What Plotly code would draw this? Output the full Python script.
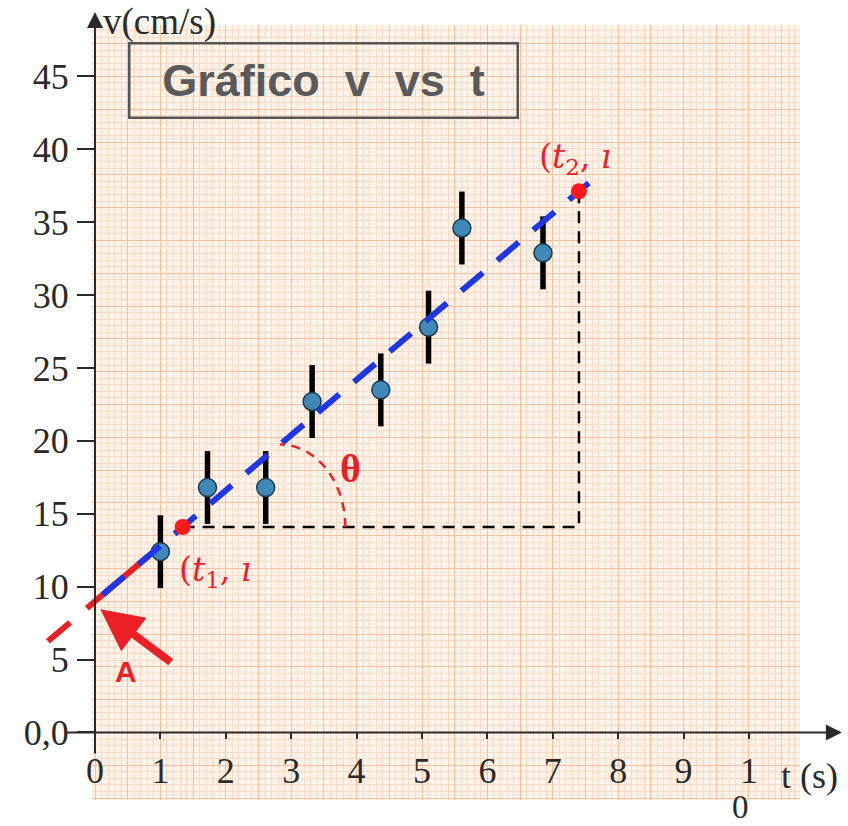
import numpy as np
import plotly.graph_objects as go

# ---- measured data -------------------------------------------------------
t_s = [1.00, 1.72, 2.61, 3.32, 4.37, 5.10, 5.61, 6.85]
v_cms = [12.4, 16.8, 16.8, 22.7, 23.5, 27.8, 34.6, 32.9]
v_err = [2.5, 2.5, 2.5, 2.5, 2.5, 2.5, 2.5, 2.5]

# best straight line  v = fit_a + fit_b * t
fit_a = 9.0
fit_b = 3.8
# two points read on the line to get the slope
t_sel = [1.34, 7.40]
# extent of the drawn fit line
t_fit = [0.12, 7.55]
# extrapolation back to the v axis
t_extra = [-0.72, 0.0, 0.82]

x_tick_vals = [0, 1, 2, 3, 4, 5, 6, 7, 8, 9, 10]
x_tick_text = ["0", "1", "2", "3", "4", "5", "6", "7", "8", "9", "1"]
x_tick_wrap = "0"          # second line of the "10" label
y_tick_vals = [0, 5, 10, 15, 20, 25, 30, 35, 40, 45]
y_tick_text = ["0,0", "5", "10", "15", "20", "25", "30", "35", "40", "45"]

# ---- figure geometry -----------------------------------------------------
W, H = 848, 826
M_L, M_R, M_T, M_B = 92, 48, 25, 26
X0, X1 = -0.046, 10.78
Y0, Y1 = -4.63, 48.525


def line_v(t):
    return fit_a + fit_b * np.asarray(t, dtype=float)


def xp(t):
    return (t - X0) / (X1 - X0)


def yp(v):
    return (v - Y0) / (Y1 - Y0)


def yp_pix(py):
    # paper fraction for a pixel row measured from the top of the figure
    return (H - M_B - py) / (H - M_T - M_B)


v_sel = line_v(t_sel)
t1, t2 = t_sel
v1, v2 = float(v_sel[0]), float(v_sel[1])

SERIF = "Liberation Serif"
MATH = "DejaVu Serif"
SANS = "Liberation Sans"
RED = "#ec1f26"
BLUE = "#1f36e6"
INK = "#2a2a2a"

fig = go.Figure()

# construction lines for the slope triangle
fig.add_trace(go.Scatter(
    x=[t1, t2, t2], y=[v1, v1, v2], mode="lines",
    line=dict(color="black", width=2.5, dash="12px,8px"),
    hoverinfo="skip", showlegend=False))

# red extrapolation (inside the grid)
fig.add_trace(go.Scatter(
    x=t_extra[1:], y=line_v(t_extra[1:]), mode="lines",
    line=dict(color=RED, width=6),
    hoverinfo="skip", showlegend=False))

# measured points with uncertainty bars
fig.add_trace(go.Scatter(
    x=t_s, y=v_cms, mode="markers",
    marker=dict(size=18, color="#4088b6",
                line=dict(color="#1b3a4f", width=1.5)),
    error_y=dict(type="data", array=v_err, color="black",
                 thickness=5.5, width=0),
    hoverinfo="x+y", showlegend=False))

# fitted line
fig.add_trace(go.Scatter(
    x=t_fit, y=line_v(t_fit), mode="lines",
    line=dict(color=BLUE, width=6, dash="28px,19px"),
    hoverinfo="skip", showlegend=False))

# selected points
fig.add_trace(go.Scatter(
    x=t_sel, y=v_sel, mode="markers",
    marker=dict(size=16, color="#ff1a1a"),
    hoverinfo="x+y", showlegend=False))

# angle arc between the horizontal and the fit line
tc = 2.83
rx = 1.0
ry = float(line_v(tc)) - v1
th = np.linspace(0, np.pi / 2, 40)
fig.add_trace(go.Scatter(
    x=tc + rx * np.cos(th), y=v1 + ry * np.sin(th), mode="lines",
    line=dict(color=RED, width=2.5, dash="9px,7px"),
    hoverinfo="skip", showlegend=False))

# carrier trace for the tick axes
fig.add_trace(go.Scatter(x=[None], y=[None], xaxis="x2", yaxis="y2",
                         showlegend=False, hoverinfo="skip"))

# red dashed extrapolation beyond the v axis
fig.add_shape(type="line", xref="paper", yref="paper",
              x0=xp(t_extra[0]), y0=yp(float(line_v(t_extra[0]))),
              x1=xp(t_extra[1]), y1=yp(float(line_v(t_extra[1]))),
              line=dict(color=RED, width=6, dash="29px,22px,200px"),
              layer="above")

ann = []
# axes with arrows
ann.append(dict(x=xp(11.42), y=yp(0), xref="paper", yref="paper",
                text="", showarrow=True, ax=-777, ay=0,
                arrowhead=2, arrowsize=1.6, arrowwidth=2, arrowcolor=INK))
ann.append(dict(x=xp(0), y=yp(49.42), xref="paper", yref="paper",
                text="", showarrow=True, ax=0, ay=743,
                arrowhead=2, arrowsize=1.6, arrowwidth=2, arrowcolor=INK))
ann.append(dict(x=xp(0.1), y=yp_pix(0), xref="paper", yref="paper",
                text="v(cm/s)", showarrow=False, xanchor="left",
                yanchor="top", borderpad=0,
                font=dict(family=SERIF, size=37, color=INK)))
ann.append(dict(x=xp(10.93), y=yp(-3.0), xref="paper", yref="paper",
                text="t\u00a0(s)", showarrow=False, xanchor="center",
                yanchor="middle", font=dict(family=SERIF, size=36, color=INK)))
# wrapped second line of the "10" tick label
ann.append(dict(x=xp(10) - 0.012, y=yp_pix(H), xref="paper", yref="paper",
                text=x_tick_wrap, showarrow=False, xanchor="center",
                yanchor="bottom", borderpad=0,
                font=dict(family=SERIF, size=33, color=INK)))
# title box
ann.append(dict(x=xp(3.5), y=yp(44.75), xref="paper", yref="paper",
                text="<b>Gráfico\u00a0\u00a0v\u00a0\u00a0vs\u00a0\u00a0t</b>",
                showarrow=False, xanchor="center", yanchor="middle",
                width=386, height=72, borderpad=0,
                bordercolor="#555555", borderwidth=2.5,
                font=dict(family=SANS, size=45, color="#5a5a5a")))
# point labels
ann.append(dict(x=t1, y=v1, xref="x", yref="y",
                text="(<i>t</i><sub>1</sub>, <i>ı</i>", showarrow=False,
                xanchor="left", yanchor="middle", xshift=-6, yshift=-44,
                font=dict(family=MATH, size=33, color=RED)))
ann.append(dict(x=t2, y=v2, xref="x", yref="y",
                text="(<i>t</i><sub>2</sub>, <i>ı</i>", showarrow=False,
                xanchor="center", yanchor="middle", xshift=-4, yshift=33,
                font=dict(family=MATH, size=33, color=RED)))
ann.append(dict(x=3.91, y=18.1, xref="x", yref="y", text="<b>θ</b>",
                showarrow=False, font=dict(family=SERIF, size=40, color=RED)))
# intercept marker
ann.append(dict(x=0.08, y=fit_a - 0.55, xref="x", yref="y", text="",
                showarrow=True, ax=72, ay=54, arrowhead=2, arrowsize=1.05,
                arrowwidth=8, arrowcolor=RED))
ann.append(dict(x=0.47, y=4.15, xref="x", yref="y", text="<b>A</b>",
                showarrow=False, font=dict(family=SANS, size=30, color=RED)))

fig.update_layout(
    template="none",
    width=W, height=H,
    margin=dict(l=M_L, r=M_R, t=M_T, b=M_B),
    paper_bgcolor="white",
    plot_bgcolor="#fef2e9",
    showlegend=False,
    annotations=ann,
    xaxis=dict(range=[X0, X1], showgrid=True, gridcolor="#f5c2a1",
               gridwidth=1, tick0=0, dtick=0.5, showticklabels=False,
               ticks="", zeroline=False, showline=False, automargin=False,
               minor=dict(dtick=0.1, showgrid=True, gridcolor="#fadcc9",
                          gridwidth=1, ticks="")),
    yaxis=dict(range=[Y0, Y1], showgrid=True, gridcolor="#f5c2a1",
               gridwidth=1, tick0=0, dtick=2.25, showticklabels=False,
               ticks="", zeroline=False, showline=False, automargin=False,
               minor=dict(dtick=0.45, showgrid=True, gridcolor="#fadcc9",
                          gridwidth=1, ticks="")),
    xaxis2=dict(overlaying="x", range=[X0, X1], anchor="free",
                position=yp(0), side="bottom", tickmode="array",
                tickvals=x_tick_vals, ticktext=x_tick_text,
                ticks="outside", ticklen=6, tickwidth=2, tickcolor=INK,
                ticklabelstandoff=0,
                showgrid=False, zeroline=False, showline=False,
                automargin=False,
                tickfont=dict(family=SERIF, size=36, color=INK)),
    yaxis2=dict(overlaying="y", range=[Y0, Y1], anchor="free",
                position=xp(0), side="left", tickmode="array",
                tickvals=y_tick_vals, ticktext=y_tick_text,
                ticks="outside", ticklen=18, tickwidth=2, tickcolor=INK,
                ticklabelstandoff=1,
                showgrid=False, zeroline=False, showline=False,
                automargin=False,
                tickfont=dict(family=SERIF, size=36, color=INK)),
)

fig.write_html("out.html")
